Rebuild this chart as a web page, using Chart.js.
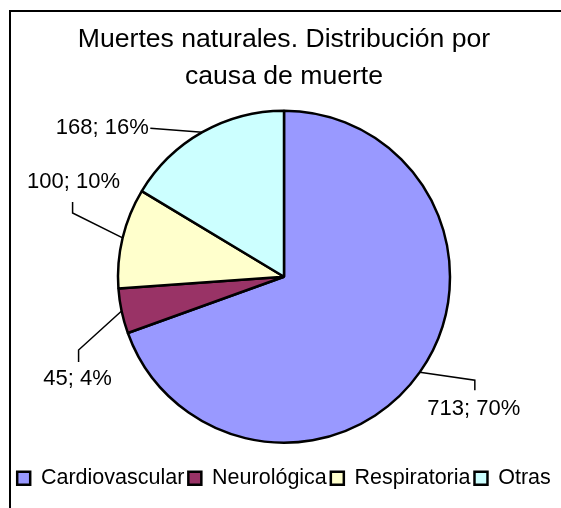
<!DOCTYPE html>
<html>
<head>
<meta charset="utf-8">
<script src="https://cdn.jsdelivr.net/npm/chart.js@4.4.0/dist/chart.umd.min.js"></script>
<style>
  html, body { margin: 0; padding: 0; background: #fff; }
  #wrap { width: 561px; height: 508px; position: relative; }
</style>
</head>
<body>
<div id="wrap"><canvas id="pieChart"></canvas></div>
<script>
const categories = ['Cardiovascular', 'Neurológica', 'Respiratoria', 'Otras'];
const deaths = [713, 45, 100, 168];
const percents = [70, 4, 10, 16];
const sliceColors = ['#9999ff', '#993366', '#ffffcc', '#ccffff'];

// leader line + label text, as offsets from the slice's outer mid point
const labelLayout = [
  { path: [[55, 8], [55, 18]], text: [54, 37] },
  { path: [[-43, 39], [-43, 51]], text: [-44, 68] },
  { path: [[-50, -25], [-50, -36]], text: [-49, -56] },
  { path: [[-52, -4]], text: [-100, -4] }
];

const FONT = "'Liberation Sans', Arial, sans-serif";

// black frame (cut at right and bottom like the original)
const framePlugin = {
  id: 'frame',
  beforeDraw(chart) {
    const ctx = chart.ctx;
    ctx.save();
    ctx.fillStyle = '#fff';
    ctx.fillRect(0, 0, chart.width, chart.height);
    ctx.strokeStyle = '#000';
    ctx.lineWidth = 2;
    ctx.beginPath();
    ctx.moveTo(10, chart.height);
    ctx.lineTo(10, 11);
    ctx.lineTo(chart.width, 11);
    ctx.stroke();
    ctx.restore();
  }
};

const pieLabels = {
  id: 'pieLabels',
  afterDatasetsDraw(chart) {
    const ctx = chart.ctx;
    const meta = chart.getDatasetMeta(0);
    ctx.save();
    ctx.strokeStyle = '#000';
    ctx.lineWidth = 1.5;
    ctx.fillStyle = '#000';
    ctx.font = '22px ' + FONT;
    ctx.textAlign = 'center';
    ctx.textBaseline = 'middle';
    meta.data.forEach((arc, i) => {
      const mid = (arc.startAngle + arc.endAngle) / 2;
      const x0 = arc.x + Math.cos(mid) * arc.outerRadius;
      const y0 = arc.y + Math.sin(mid) * arc.outerRadius;
      const lay = labelLayout[i];
      ctx.beginPath();
      ctx.moveTo(x0, y0);
      lay.path.forEach(p => ctx.lineTo(x0 + p[0], y0 + p[1]));
      ctx.stroke();
      ctx.fillText(deaths[i] + '; ' + percents[i] + '%', x0 + lay.text[0], y0 + lay.text[1]);
    });
    ctx.restore();
  }
};

const ctxPie = document.getElementById('pieChart').getContext('2d');

const pieChart = new Chart(ctxPie, {
  type: 'pie',
  data: {
    labels: categories,
    datasets: [{
      data: deaths,
      backgroundColor: sliceColors,
      borderColor: '#000',
      borderWidth: 2.5,
      radius: 166
    }]
  },
  options: {
    responsive: true,
    maintainAspectRatio: false,
    animation: false,
    layout: {
      padding: { top: 0, left: 7, right: 0, bottom: 9 }
    },
    plugins: {
      title: {
        display: true,
        text: ['Muertes naturales. Distribución por', 'causa de muerte'],
        color: '#000',
        font: { family: FONT, size: 26.6, weight: 'normal', lineHeight: 1.39 },
        padding: { top: 21, bottom: -5 }
      },
      legend: {
        position: 'bottom',
        labels: {
          color: '#000',
          font: { family: FONT, size: 21.5 },
          boxWidth: 13,
          boxHeight: 13,
          padding: 4
        }
      },
      tooltip: { enabled: false }
    }
  },
  plugins: [framePlugin, pieLabels]
});
</script>
</body>
</html>
